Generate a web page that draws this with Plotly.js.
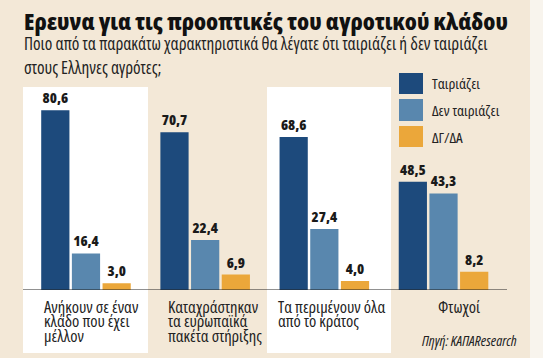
<!DOCTYPE html>
<html>
<head>
<meta charset="utf-8">
<script src="https://cdn.plot.ly/plotly-3.0.1.min.js"></script>
<style>
html,body{margin:0;padding:0;background:#f3e8d7;}
#chart{width:543px;height:358px;}
svg text{font-stretch:75%;}
</style>
</head>
<body>
<div id="chart"></div>
<script>
// ---- data ----
var categories = [
  'Ανήκουν σε έναν<br>κλάδο που έχει<br>μέλλον',
  'Καταχράστηκαν<br>τα ευρωπαϊκά<br>πακέτα στήριξης',
  'Τα περιμένουν όλα<br>από το κράτος',
  'Φτωχοί'
];
var seriesNames = ['Ταιριάζει', 'Δεν ταιριάζει', 'ΔΓ/ΔΑ'];
var fits    = [80.6, 70.7, 68.6, 48.5];
var notFits = [16.4, 22.4, 27.4, 43.3];
var dkna    = [3.0, 6.9, 4.0, 8.2];
var titleText = 'Ερευνα για τις προοπτικές του αγροτικού κλάδου';
var subtitleLines = ['Ποιο από τα παρακάτω χαρακτηριστικά θα λέγατε ότι ταιριάζει ή δεν ταιριάζει',
                     'στους Ελληνες αγρότες;'];
var sourceText = 'Πηγή: ΚΑΠΑResearch';

// ---- style ----
var colors = ['#1d4a7c', '#5987ae', '#eba73a'];
var W = 543, H = 358;
var cond = '"Open Sans", sans-serif';
var textCol = '#1a1a1a';
var labelShift = [-44, -39, -48, -8];
function px(x){return x / W;}
function py(y){return 1 - y / H;}

var idx = categories.map(function(_, i){return i;});
var values = [fits, notFits, dkna];
var traces = values.map(function(v, k){
  return {
    type: 'bar', x: idx, y: v, name: seriesNames[k],
    marker: {color: colors[k]},
    texttemplate: '%{y:.1f}', textposition: 'outside',
    textfont: {family: cond, size: 14.5, color: textCol, weight: 800},
    cliponaxis: false, showlegend: false, hoverinfo: 'skip'
  };
});

var shapes = [
  {type:'rect', xref:'paper', yref:'paper', x0:px(530), x1:1.01, y0:-0.01, y1:1.01, fillcolor:'#f8f4ed', line:{width:0}, layer:'below'},
  {type:'rect', xref:'paper', yref:'paper', x0:px(23), x1:px(148), y0:py(353), y1:py(87), fillcolor:'#ffffff', line:{width:0}, layer:'below'},
  {type:'rect', xref:'paper', yref:'paper', x0:px(267), x1:px(391), y0:py(353), y1:py(87), fillcolor:'#ffffff', line:{width:0}, layer:'below'},
  {type:'line', xref:'paper', yref:'y', x0:px(23), x1:px(507), y0:0, y1:0, line:{color:'#222', width:1}}
];

var annotations = [];
annotations.push({xref:'paper', yref:'paper', x:px(22), y:py(21), xanchor:'left', yanchor:'middle', showarrow:false,
  text:titleText, font:{family:cond, size:23.5, color:'#111', weight:800}});
subtitleLines.forEach(function(t, i){
  annotations.push({xref:'paper', yref:'paper', x:px(22), y:py(44 + i*23), xanchor:'left', yanchor:'middle', showarrow:false,
    text:t, font:{family:cond, size:17.2, color:'#222'}});
});
var legTop = [73, 99, 126], legH = [21, 22, 21];
seriesNames.forEach(function(n, k){
  shapes.push({type:'rect', xref:'paper', yref:'paper', x0:px(399), x1:px(423), y0:py(legTop[k] + legH[k]), y1:py(legTop[k]),
    fillcolor:colors[k], line:{width:0}});
  annotations.push({xref:'paper', yref:'paper', x:px(430), y:py(legTop[k] + legH[k]/2), xanchor:'left', yanchor:'middle', showarrow:false,
    text:n, font:{family:cond, size:15, color:'#222'}});
});
categories.forEach(function(c, i){
  c.split('<br>').forEach(function(line, j){
    annotations.push({xref:'x', yref:'paper', x:i, y:py(306 + j*14.8), xanchor:'left', yanchor:'middle', xshift:labelShift[i],
      showarrow:false, text:line, font:{family:cond, size:16.5, color:'#222'}});
  });
});
annotations.push({xref:'paper', yref:'paper', x:px(519), y:py(340), xanchor:'right', yanchor:'middle', showarrow:false,
  text:sourceText, font:{family:cond, size:14.5, color:'#222', style:'italic'}});

var layout = {
  width: W, height: H,
  margin: {l:0, r:0, t:0, b:0},
  paper_bgcolor: '#f3e8d7', plot_bgcolor: 'rgba(0,0,0,0)',
  separators: ', ',
  barmode: 'group', bargap: 0.228, bargroupgap: 0.08,
  xaxis: {domain:[px(26.4), px(503.1)], range:[-0.5, 3.5], showticklabels:false, showgrid:false, zeroline:false, showline:false, ticks:'', fixedrange:true},
  yaxis: {domain:[py(290), py(87)], range:[0, 91], showticklabels:false, showgrid:false, zeroline:false, showline:false, ticks:'', fixedrange:true},
  shapes: shapes, annotations: annotations, showlegend: false
};
Plotly.newPlot('chart', traces, layout, {staticPlot:true, displayModeBar:false});
</script>
</body>
</html>
